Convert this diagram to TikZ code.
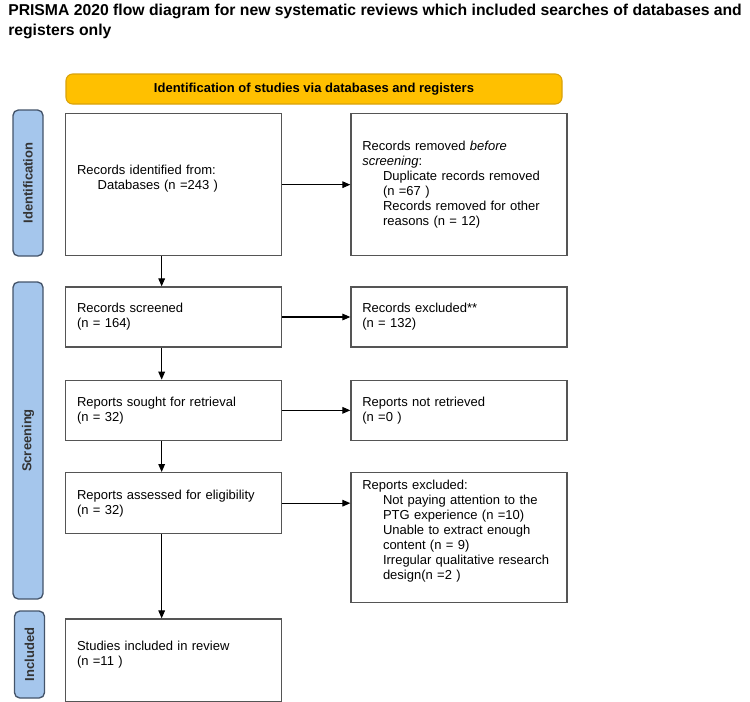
\documentclass[tikz,border=0pt]{standalone}
\usepackage{fontspec}
\setmainfont{Liberation Sans}
\usepackage{tikz}
\usetikzlibrary{arrows.meta, positioning}
\definecolor{PhaseBlue}{HTML}{A5C6EC}
\definecolor{PhaseSlate}{HTML}{44546A}
\definecolor{BannerGold}{HTML}{FFC000}
\definecolor{BannerEdge}{HTML}{D9A20A}
\definecolor{BoxGrey}{HTML}{555555}
\tikzstyle{box} = [rectangle, draw=BoxGrey, fill=white, line width=1pt, minimum width=162pt, text width=145pt, inner xsep=8.5pt, inner ysep=0pt, align=left, font=\fontsize{9.75pt}{11.25pt}\selectfont]
\tikzstyle{phase} = [rectangle, rounded corners=4pt, draw=PhaseSlate, fill=PhaseBlue, line width=1pt, minimum height=22.5pt, inner sep=0pt, text=black!80, font=\bfseries\fontsize{9.75pt}{11pt}\selectfont, rotate=90]
\tikzstyle{banner} = [rectangle, rounded corners=5pt, draw=BannerEdge, fill=BannerGold, line width=0.8pt, minimum width=372pt, minimum height=22.5pt, font=\bfseries\fontsize{9.75pt}{11pt}\selectfont]
\tikzstyle{arrow} = [-{Triangle[length=6pt,width=5pt]}, line width=0.8pt]
\newcommand{\ind}{\hspace*{15.5pt}}

\begin{document}
\begin{tikzpicture}[x=0.75pt, y=-0.75pt]
        \useasboundingbox (0,0) rectangle (750,701);

        % Title and banner
        \node [anchor=north west, inner sep=0pt, align=left, font=\bfseries\fontsize{11.8pt}{15pt}\selectfont] (title) at (8,4)
            {PRISMA 2020 flow diagram for new systematic reviews which included searches of databases and\\registers only};
        \node [banner] (banner) at (314,89) {Identification of studies via databases and registers};

        % Phases
        \node [phase, minimum width=109.5pt] (phaseid) at (28,183) {Identification};
        \node [phase, minimum width=237.75pt] (phasescr) at (28,440.5) {Screening};
        \node [phase, minimum width=65.25pt] (phaseinc) at (29.5,654.5) {Included};

        % Main column
        \node [box, anchor=north west, minimum height=106.5pt] (records) at (65,113)
            {Records identified from:\\ \ind Databases (n =243 )\\ \mbox{}};
        \node [box, below=22.5pt of records, minimum height=45pt] (screened) {Records screened\\(n = 164)};
        \node [box, below=24pt of screened, minimum height=45pt] (retrieval) {Reports sought for retrieval\\(n = 32)};
        \node [box, below=23.25pt of retrieval, minimum height=45.75pt] (assessed) {Reports assessed for eligibility\\(n = 32)};
        \node [box, below=63pt of assessed, minimum height=62.25pt] (studies) {Studies included in review\\(n =11 )\\ \mbox{}};

        % Side column
        \node [box, right=51pt of records, minimum height=106.5pt] (removed)
            {Records removed \textit{before}\\\textit{screening}:\\ \ind Duplicate records removed\\ \ind (n =67 )\\ \ind Records removed for other\\ \ind reasons (n = 12)};
        \node [box, right=51pt of screened, minimum height=45pt] (excluded) {Records excluded**\\(n = 132)};
        \node [box, right=51pt of retrieval, minimum height=45pt] (notretr) {Reports not retrieved\\(n =0 )};
        \node [box, right=51pt of assessed.north east, anchor=north west, minimum height=97.5pt] (repexcl)
            {Reports excluded:\\ \ind Not paying attention to the\\ \ind PTG experience (n =10)\\ \ind Unable to extract enough\\ \ind content (n = 9)\\ \ind Irregular qualitative research\\ \ind design(n =2 )\\ \mbox{}};

        % Flow
        \draw [arrow] ([xshift=-9pt]records.south) -- ([xshift=-9pt]screened.north);
        \draw [arrow] ([xshift=-9pt]screened.south) -- ([xshift=-9pt]retrieval.north);
        \draw [arrow] ([xshift=-9pt]retrieval.south) -- ([xshift=-9pt]assessed.north);
        \draw [arrow] ([xshift=-9pt]assessed.south) -- ([xshift=-9pt]assessed.south |- studies.north);

        % Exclusions
        \draw [arrow] (records) -- (removed);
        \draw [arrow] (screened) -- (excluded);
        \draw [arrow] (retrieval) -- (notretr);
        \draw [arrow] (assessed) -- (assessed -| repexcl.west);
\end{tikzpicture}
\end{document}
